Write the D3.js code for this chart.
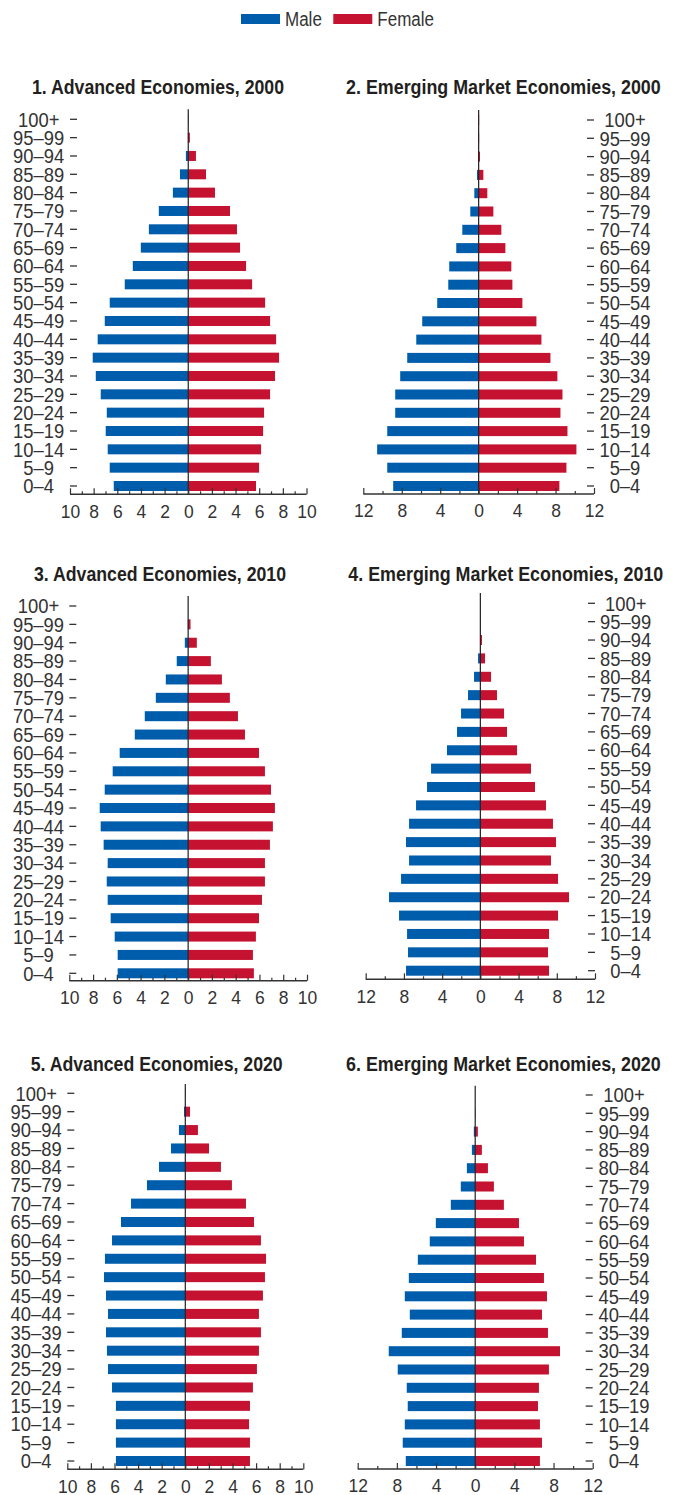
<!DOCTYPE html>
<html><head><meta charset="utf-8">
<script src="https://cdn.jsdelivr.net/npm/d3@7"></script>
<style>
html,body{margin:0;padding:0;background:#fff;}
svg{display:block;}
text{font-family:"Liberation Sans",Arial,sans-serif;}
</style></head>
<body>
<svg id="chart" width="678" height="1495"></svg>
<script>
// ---- data ----
const ageGroups = ["0–4","5–9","10–14","15–19","20–24","25–29","30–34","35–39","40–44","45–49","50–54","55–59","60–64","65–69","70–74","75–79","80–84","85–89","90–94","95–99","100+"];
const seriesNames = ["Male","Female"];
const titles = ["1. Advanced Economies, 2000","2. Emerging Market Economies, 2000","3. Advanced Economies, 2010","4. Emerging Market Economies, 2010","5. Advanced Economies, 2020","6. Emerging Market Economies, 2020"];

const adv2000Male   = [6.30,6.64,6.81,6.98,6.89,7.40,7.82,8.08,7.66,7.06,6.64,5.37,4.69,4.01,3.33,2.49,1.30,0.70,0.20,0.03,0.01];
const adv2000Female = [5.73,5.99,6.16,6.33,6.41,6.92,7.34,7.68,7.43,6.92,6.50,5.40,4.89,4.38,4.12,3.53,2.26,1.50,0.65,0.14,0.03];
const em2000Male    = [8.89,9.51,10.56,9.51,8.68,8.68,8.16,7.43,6.49,5.87,4.31,3.16,3.06,2.33,1.70,0.87,0.45,0.17,0.05,0.05,0.02];
const em2000Female  = [8.40,9.13,10.17,9.24,8.51,8.72,8.19,7.47,6.53,6.01,4.55,3.51,3.40,2.78,2.36,1.53,0.90,0.49,0.14,0.05,0.05];
const adv2010Male   = [5.93,5.93,6.18,6.52,6.77,6.85,6.77,7.11,7.36,7.44,7.02,6.35,5.76,4.49,3.65,2.72,1.88,0.96,0.28,0.03,0];
const adv2010Female = [5.53,5.45,5.70,5.96,6.21,6.46,6.46,6.88,7.13,7.30,6.97,6.46,5.96,4.78,4.19,3.51,2.84,1.91,0.73,0.20,0];
const em2010Male    = [7.78,7.57,7.67,8.51,9.56,8.30,7.46,7.78,7.46,6.73,5.58,5.16,3.49,2.44,2.02,1.29,0.66,0.24,0.03,0.01,0];
const em2010Female  = [7.19,7.08,7.19,8.13,9.28,8.13,7.39,7.92,7.60,6.87,5.72,5.30,3.84,2.79,2.48,1.74,1.12,0.49,0.17,0.02,0];
const adv2020Male   = [5.88,5.88,5.88,5.88,6.21,6.55,6.64,6.72,6.55,6.72,6.89,6.81,6.21,5.45,4.60,3.25,2.23,1.21,0.54,0.11,0.01];
const adv2020Female = [5.48,5.48,5.40,5.48,5.73,6.07,6.24,6.41,6.24,6.58,6.75,6.84,6.41,5.82,5.14,3.95,3.02,2.01,1.07,0.40,0.02];
const em2020Male    = [7.09,7.40,7.19,6.89,6.99,7.91,8.83,7.50,6.68,7.19,6.78,5.86,4.64,4.02,2.49,1.47,0.85,0.34,0.14,0.02,0];
const em2020Female  = [6.61,6.82,6.61,6.41,6.51,7.53,8.66,7.43,6.82,7.33,7.02,6.21,4.98,4.47,2.93,1.91,1.30,0.68,0.27,0.03,0];

const advTicks = [-10,-9,-8,-7,-6,-5,-4,-3,-2,-1,0,1,2,3,4,5,6,7,8,9,10];
const advLabels = [-10,-8,-6,-4,-2,0,2,4,6,8,10];
const emTicks = [-12,-10,-8,-6,-4,-2,0,2,4,6,8,10,12];
const emLabels = [-12,-8,-4,0,4,8,12];

// ---- style ----
const BLUE = "#005dab", RED = "#c41230", INK = "#231f20", GREY = "#333";
const svg = d3.select("#chart");

function condense(sel, f){
  sel.each(function(){
    const len = this.getComputedTextLength();
    if (len > 0) d3.select(this).attr("textLength", len*f).attr("lengthAdjust","spacingAndGlyphs");
  });
}

// layout of each panel (positions only)
const layouts = [
  {x0:70,   x1:306.5, yTop:119.3, yBot:486,   base:494.3, lineTop:109.3, tx:158,   ty:86.7, side:"left",  lx:38.7},
  {x0:363.3,x1:594,   yTop:120,   yBot:486,   base:494,   lineTop:110,   tx:503.4, ty:86.7, side:"right", lx:625},
  {x0:69.3, x1:307,   yTop:606,   yBot:973.3, base:980.7, lineTop:596,   tx:160,   ty:574,  side:"left",  lx:38.5},
  {x0:365.7,x1:595,   yTop:603.3, yBot:970.7, base:979.3, lineTop:593,   tx:505.8, ty:574,  side:"right", lx:625.7},
  {x0:67.3, x1:303.3, yTop:1093.3,yBot:1461,  base:1469.3,lineTop:1084,  tx:156.7, ty:1064, side:"left",  lx:36.2},
  {x0:357.7,x1:592.7, yTop:1095,  yBot:1461,  base:1469,  lineTop:1085.7,tx:503.4, ty:1064, side:"right", lx:624}
];
const panelData = [
  [adv2000Male, adv2000Female, 10, advTicks, advLabels],
  [em2000Male,  em2000Female,  12, emTicks,  emLabels],
  [adv2010Male, adv2010Female, 10, advTicks, advLabels],
  [em2010Male,  em2010Female,  12, emTicks,  emLabels],
  [adv2020Male, adv2020Female, 10, advTicks, advLabels],
  [em2020Male,  em2020Female,  12, emTicks,  emLabels]
];
const titleWidths = [252, 314.7, 252, 315, 252, 314.7];

panelData.forEach((pd, i) => {
  const L = layouts[i];
  const [male, female, maxV, ticks, labels] = pd;
  const g = svg.append("g");
  const x = d3.scaleLinear().domain([-maxV, maxV]).range([L.x0, L.x1]);
  const y = d3.scalePoint().domain(ageGroups).range([L.yBot, L.yTop]);
  const bh = 10;

  // title
  const t = g.append("text").attr("x", L.tx).attr("y", L.ty).attr("dy", "0.36em")
    .attr("text-anchor", "middle").attr("font-size", 20).attr("font-weight", "bold")
    .attr("fill", INK).text(titles[i]);
  t.attr("textLength", titleWidths[i]).attr("lengthAdjust", "spacingAndGlyphs");

  // bars
  g.selectAll(".m").data(ageGroups).join("rect")
    .attr("x", (d, k) => x(-male[k])).attr("width", (d, k) => x(0) - x(-male[k]))
    .attr("y", d => y(d) - bh/2).attr("height", bh).attr("fill", BLUE);
  g.selectAll(".f").data(ageGroups).join("rect")
    .attr("x", x(0)).attr("width", (d, k) => x(female[k]) - x(0))
    .attr("y", d => y(d) - bh/2).attr("height", bh).attr("fill", RED);

  // centre line
  g.append("line").attr("x1", x(0)).attr("x2", x(0)).attr("y1", L.lineTop).attr("y2", L.base)
    .attr("stroke", INK).attr("stroke-width", 1.2);

  // x axis
  const xa = d3.axisBottom(x).tickValues(ticks).tickSize(-3).tickPadding(10)
    .tickFormat(v => labels.includes(v) ? String(Math.abs(v)) : "");
  const ax = g.append("g").attr("transform", `translate(0,${L.base})`).call(xa);
  ax.select(".domain").attr("d", `M${L.x0},0H${L.x1}`).attr("stroke", GREY).attr("stroke-width", 1.4);
  ax.selectAll(".tick line").attr("stroke", GREY).attr("stroke-width", 1.2)
    .attr("y2", v => labels.includes(v) ? -6 : -3);
  ax.selectAll(".tick text").attr("font-size", 19).attr("fill", GREY)
    .attr("font-family", "'Liberation Sans',Arial,sans-serif");
  condense(ax.selectAll(".tick text"), 0.92);

  // age axis
  const edge = L.side === "left" ? L.x0 : L.x1;
  const dir = L.side === "left" ? 1 : -1;
  const ag = g.append("g");
  ag.selectAll("line").data(ageGroups).join("line")
    .attr("x1", edge).attr("x2", edge + dir*7)
    .attr("y1", d => y(d)).attr("y2", d => y(d))
    .attr("stroke", GREY).attr("stroke-width", 1.3);
  const at = ag.selectAll("text").data(ageGroups).join("text")
    .attr("x", L.lx).attr("y", d => y(d)).attr("dy", "0.36em")
    .attr("text-anchor", "middle").attr("font-size", 20).attr("fill", GREY).text(d => d);
  condense(at, 0.92);
});

// legend
const leg = svg.append("g");
const legItems = [{name: seriesNames[0], c: BLUE, rx: 241, tx: 285}, {name: seriesNames[1], c: RED, rx: 333.3, tx: 377.3}];
leg.selectAll("rect").data(legItems).join("rect")
  .attr("x", d => d.rx).attr("y", 14).attr("width", 39).attr("height", 10).attr("fill", d => d.c);
const lt = leg.selectAll("text").data(legItems).join("text")
  .attr("x", d => d.tx).attr("y", 19).attr("dy", "0.36em").attr("font-size", 20).attr("fill", GREY).text(d => d.name);
condense(lt, 0.85);
</script>
</body></html>
